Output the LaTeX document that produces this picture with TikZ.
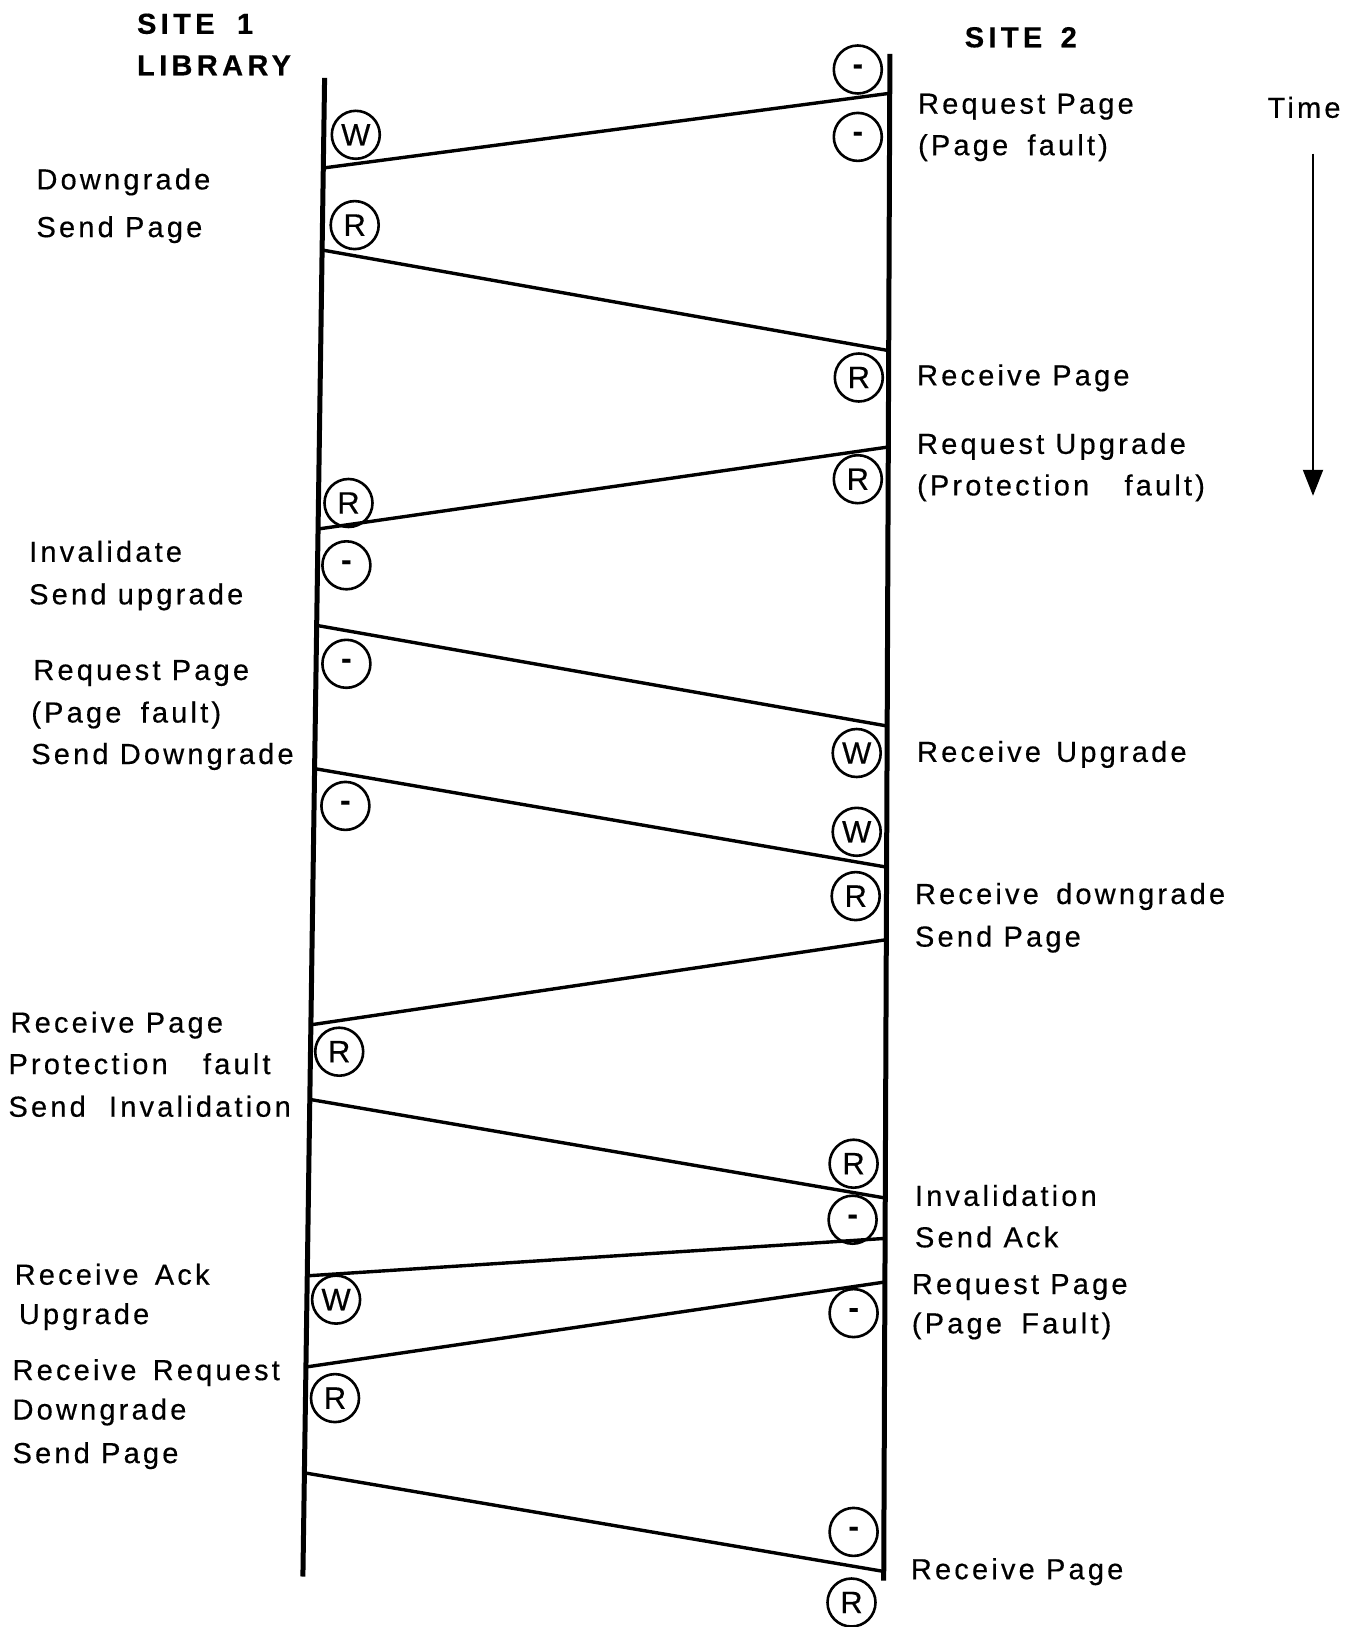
\documentclass[tikz,border=0pt]{standalone}
\usepackage{fontspec}
\setmainfont{Liberation Sans}[LetterSpace=11,WordSpace=1.0,FakeBold=0.4]
\newfontfamily\circfont{Liberation Sans}[FakeBold=0.4]
\usetikzlibrary{arrows.meta}
\begin{document}
\begin{tikzpicture}[x=1pt,y=-1pt,
  lbl/.style={font=\fontsize{29}{34}\selectfont, inner sep=0pt, anchor=base west},
  ttl/.style={inner sep=0pt, anchor=base west, font=\fontsize{29}{34}\selectfont\bfseries\addfontfeatures{LetterSpace=15}},
  state/.style={circle, draw, line width=2.6pt, minimum size=48pt, inner sep=0pt, font=\circfont\fontsize{31}{32}\selectfont},
  life/.style={line width=5pt},
  msg/.style={line width=3.4pt},
  timearrow/.style={line width=2pt, -{Triangle[width=20pt,length=26pt]}}
]
\useasboundingbox (0,0) rectangle (1365,1627);
\fill[white] (0,0) rectangle (1365,1627);

% titles
\node[ttl] (site1) at (136.9,33.8) {SITE\hspace{10pt} 1};
\node[ttl] (lib) at (136.9,75.3) {LIBRARY};
\node[ttl] (site2) at (964.6,47.3) {SITE\hspace{6pt} 2};
\node[lbl] (time) at (1267.4,117.8) {Time};
\coordinate (ta) at (1313,153.5);
\coordinate (tb) at (1313,495.8);
\draw[timearrow] (ta) -- (tb);

% lifelines
\coordinate (Ltop) at (324.6,77.8);
\coordinate (Lbot) at (302.9,1576.5);
\coordinate (Rtop) at (889.9,53.9);
\coordinate (Rbot) at (883.7,1580.5);
\draw[life] (Ltop) -- (Lbot);
\draw[life] (Rtop) -- (Rbot);

% message end points
\coordinate (r1) at (889.7,93.3);   \coordinate (l1) at (323.3,168.0);
\coordinate (l2) at (322.1,250.0);  \coordinate (r2) at (888.7,350.6);
\coordinate (r3) at (888.3,447.0);  \coordinate (l3) at (318.1,529.0);
\coordinate (l4) at (316.7,625.4);  \coordinate (r4) at (887.1,726.0);
\coordinate (l5) at (314.6,768.6);  \coordinate (r5) at (886.5,867.1);
\coordinate (r6) at (886.2,939.7);  \coordinate (l6) at (310.9,1024.8);
\coordinate (l7) at (309.8,1099.4); \coordinate (r7) at (885.2,1198.0);
\coordinate (r8) at (885.0,1238.4); \coordinate (l8) at (307.3,1275.8);
\coordinate (r9) at (884.8,1282.0); \coordinate (l9) at (305.9,1367.0);
\coordinate (l10) at (304.4,1472.8); \coordinate (r10) at (883.6,1571.4);

\draw[msg] (r1) -- (l1);
\draw[msg] (l2) -- (r2);
\draw[msg] (r3) -- (l3);
\draw[msg] (l4) -- (r4);
\draw[msg] (l5) -- (r5);
\draw[msg] (r6) -- (l6);
\draw[msg] (l7) -- (r7);
\draw[msg] (r8) -- (l8);
\draw[msg] (r9) -- (l9);
\draw[msg] (l10) -- (r10);

% states, site 1
\node[state] (sL1) at (355.8,134.8) {W};
\node[state] (sL2) at (354.7,225.1) {R};
\node[state] (sL3) at (348.5,503.0) {R};
\node[state] (sL4) at (346.4,565.3) {\bfseries -};
\node[state] (sL5) at (346.4,663.8) {\bfseries -};
\node[state] (sL6) at (345.4,805.9) {\bfseries -};
\node[state] (sL7) at (339.2,1051.7) {R};
\node[state] (sL8) at (336.1,1299.6) {W};
\node[state] (sL9) at (335.0,1398.1) {R};

% states, site 2
\node[state] (sR1) at (857.8,69.5) {\bfseries -};
\node[state] (sR2) at (857.8,136.9) {\bfseries -};
\node[state] (sR3) at (858.8,377.5) {R};
\node[state] (sR4) at (857.8,479.2) {R};
\node[state] (sR5) at (856.7,753.0) {W};
\node[state] (sR6) at (856.7,831.8) {W};
\node[state] (sR7) at (855.7,896.1) {R};
\node[state] (sR8) at (853.6,1163.7) {R};
\node[state] (sR9) at (852.6,1219.7) {\bfseries -};
\node[state] (sR10) at (853.6,1313.1) {\bfseries -};
\node[state] (sR11) at (853.6,1531.9) {\bfseries -};
\node[state] (sR12) at (851.5,1602.5) {R};

% labels, site 1
\node[lbl] (a1) at (36.3,189.4) {Downgrade};
\node[lbl] (a2) at (36.3,237.1) {Send Page};
\node[lbl] (a3) at (29.0,561.8) {Invalidate};
\node[lbl] (a4) at (29.0,604.3) {Send upgrade};
\node[lbl] (a5) at (33.2,680.0) {Request Page};
\node[lbl] (a6) at (31.1,722.5) {(Page\hspace{8pt} fault)};
\node[lbl] (a7) at (31.1,764.0) {Send Downgrade};
\node[lbl] (a8) at (10.4,1032.6) {Receive Page};
\node[lbl] (a9) at (8.3,1074.1) {Protection\hspace{24pt} fault};
\node[lbl] (a10) at (8.3,1116.7) {Send\hspace{12pt} Invalidation};
\node[lbl] (a11) at (14.5,1284.7) {Receive\hspace{5pt} Ack};
\node[lbl] (a12) at (18.7,1324.1) {Upgrade};
\node[lbl] (a13) at (12.4,1380.1) {Receive\hspace{5pt} Request};
\node[lbl] (a14) at (12.4,1419.5) {Downgrade};
\node[lbl] (a15) at (12.4,1463.1) {Send Page};

% labels, site 2
\node[lbl] (b1) at (917.9,113.7) {Request Page};
\node[lbl] (b2) at (917.9,155.2) {(Page\hspace{8pt} fault)};
\node[lbl] (b3) at (916.9,385.4) {Receive Page};
\node[lbl] (b4) at (916.9,453.9) {Request Upgrade};
\node[lbl] (b5) at (916.9,495.4) {(Protection\hspace{24pt} fault)};
\node[lbl] (b6) at (916.9,761.9) {Receive\hspace{4pt} Upgrade};
\node[lbl] (b7) at (914.8,904.0) {Receive\hspace{6pt} downgrade};
\node[lbl] (b8) at (914.8,946.6) {Send Page};
\node[lbl] (b9) at (914.8,1205.9) {Invalidation};
\node[lbl] (b10) at (914.8,1247.3) {Send Ack};
\node[lbl] (b11) at (911.7,1294.0) {Request Page};
\node[lbl] (b12) at (911.7,1333.4) {(Page\hspace{8pt} Fault)};
\node[lbl] (b13) at (910.7,1579.2) {Receive Page};
\end{tikzpicture}
\end{document}
